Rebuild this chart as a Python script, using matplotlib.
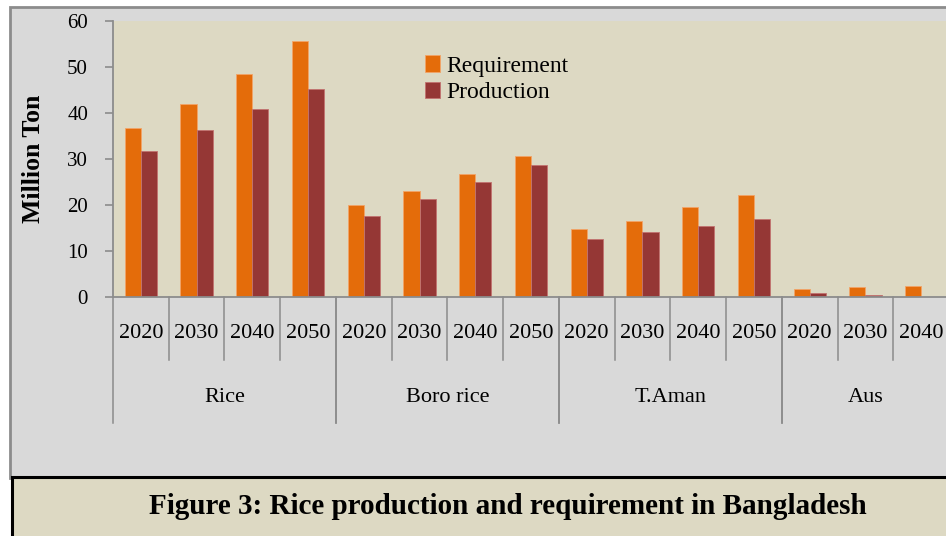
import matplotlib
matplotlib.use('Agg')
import matplotlib.pyplot as plt
from matplotlib.patches import Rectangle
import matplotlib.transforms as mtransforms
import numpy as np

groups = ['Rice', 'Boro rice', 'T.Aman', 'Aus']
years = [['2020', '2030', '2040', '2050'],
         ['2020', '2030', '2040', '2050'],
         ['2020', '2030', '2040', '2050'],
         ['2020', '2030', '2040']]
requirement = [36.7, 42.0, 48.4, 55.7,
               19.9, 23.0, 26.7, 30.6,
               14.7, 16.6, 19.5, 22.2,
               1.8, 2.1, 2.3]
production = [31.7, 36.2, 40.9, 45.3,
              17.7, 21.3, 25.0, 28.7,
              12.7, 14.1, 15.5, 16.9,
              0.95, 0.4, 0.0]

REQ_C = '#E46C0A'
PROD_C = '#953735'
PLOT_BG = '#DDD9C3'
CHART_BG = '#D9D9D9'
GREY = '#8C8C8C'
SERIF = 'Liberation Serif'

W, H = 946, 536
fig = plt.figure(figsize=(W / 100, H / 100), dpi=100)
fig.patch.set_facecolor('white')

# chart area frame (grey) and caption box
fig.patches.append(Rectangle((10 / W, (H - 478) / H), 1, 471 / H, transform=fig.transFigure,
                             facecolor=CHART_BG, edgecolor=GREY, lw=2, zorder=0))
fig.patches.append(Rectangle((12 / W, -0.05), 1, (H - 477) / H + 0.05, transform=fig.transFigure,
                             facecolor=PLOT_BG, edgecolor='black', lw=2.2, zorder=1))
fig.text(508 / W, (H - 506) / H, 'Figure 3: Rice production and requirement in Bangladesh',
         ha='center', va='center', fontsize=21, fontweight='bold', family=SERIF, zorder=2)

left, right, top, bottom = 113, 949, 21, 297
ax = fig.add_axes([left / W, (H - bottom) / H, (right - left) / W, (bottom - top) / H])
ax.set_zorder(5)
ax.set_facecolor(PLOT_BG)

n = len(requirement)
x = np.arange(n)
bw = 0.29
ax.bar(x - bw / 2, requirement, bw, color=REQ_C, edgecolor='#F2A468', lw=0.6, label='Requirement')
ax.bar(x + bw / 2, production, bw, color=PROD_C, edgecolor='#C27270', lw=0.6, label='Production')

ax.set_xlim(-0.5, n - 0.5)
ax.set_ylim(0, 60)
ax.set_yticks(range(0, 61, 10))
ax.set_xticks([])
for s in ['top', 'right']:
    ax.spines[s].set_visible(False)
for s in ['left', 'bottom']:
    ax.spines[s].set_color(GREY)
    ax.spines[s].set_linewidth(1.3)
ax.tick_params(axis='y', direction='out', length=6, width=1.2, color=GREY, pad=12,
               labelsize=15)
for lab in ax.get_yticklabels():
    lab.set_family(SERIF)

ax.set_ylabel('Million Ton', fontsize=18.5, fontweight='bold', family=SERIF, labelpad=16)

# category axis: separators and labels below the plot
trans = mtransforms.blended_transform_factory(ax.transData, ax.transAxes)
ph = bottom - top
pos = 0
for g, yrs in zip(groups, years):
    for i, yr in enumerate(yrs):
        ax.text(pos + i, -36 / ph, yr, transform=trans, ha='center', va='center',
                fontsize=16, family=SERIF, clip_on=False)
    ax.text(pos + (len(yrs) - 1) / 2, -100 / ph, g, transform=trans, ha='center', va='center',
            fontsize=16, family=SERIF, clip_on=False)
    for i in range(len(yrs) + 1):
        xb = pos + i - 0.5
        depth = 126 if i in (0, len(yrs)) else 63
        ax.plot([xb, xb], [0, -depth / ph], transform=trans, color=GREY, lw=1.1,
                clip_on=False)
    pos += len(yrs)

leg = ax.legend(loc='upper left', bbox_to_anchor=(0.362, 0.91), frameon=False,
                prop={'family': SERIF, 'size': 17}, handlelength=0.65, handleheight=0.7,
                handletextpad=0.25, labelspacing=0.2, borderaxespad=0)

plt.savefig('out.png', dpi=100)
plt.close()
